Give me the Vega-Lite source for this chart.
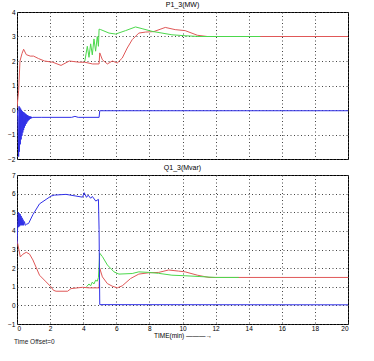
{
  "$schema": "https://vega.github.io/schema/vega-lite/v6.json",
  "background": "white",
  "padding": {"left": 7, "top": 0, "right": 20, "bottom": 2},
  "spacing": 16,
  "bounds": "flush",
  "title": {"text": "Time Offset=0", "orient": "bottom", "anchor": "start", "fontSize": 6.5, "font": "Liberation Sans", "fontWeight": "normal", "color": "#222", "offset": -1, "dx": 7},
  "config": {
    "font": "Liberation Sans",
    "view": {"stroke": "black", "strokeWidth": 1},
    "axis": {"labelFontSize": 6.5, "labelColor": "black", "domain": false, "ticks": false, "labelPadding": 2, "grid": true, "gridColor": "#444", "gridDash": [1, 2.5], "gridWidth": 1, "gridOpacity": 1, "titleFontWeight": "normal", "titleColor": "black"},
    "title": {"fontSize": 6.5, "fontWeight": "normal", "color": "black", "offset": 1},
    "line": {"strokeWidth": 1, "interpolate": "linear"}
  },
  "datasets": {
    "p": [
      {"t": 0, "v": 0.1, "s": "red"}, {"t": 0.1, "v": 0.8, "s": "red"}, {"t": 0.18, "v": 2.0, "s": "red"}, {"t": 0.3, "v": 2.3, "s": "red"}, {"t": 0.4, "v": 2.48, "s": "red"}, {"t": 0.56, "v": 2.26, "s": "red"}, {"t": 0.8, "v": 2.2, "s": "red"}, {"t": 1.0, "v": 2.2, "s": "red"}, {"t": 1.3, "v": 2.1, "s": "red"}, {"t": 1.66, "v": 2.0, "s": "red"}, {"t": 2.16, "v": 1.95, "s": "red"}, {"t": 2.66, "v": 1.82, "s": "red"}, {"t": 3.16, "v": 2.0, "s": "red"}, {"t": 3.76, "v": 1.95, "s": "red"}, {"t": 4.1, "v": 1.95, "s": "red"}, {"t": 4.56, "v": 1.88, "s": "red"}, {"t": 4.96, "v": 1.88, "s": "red"}, {"t": 5.0, "v": 2.33, "s": "red"}, {"t": 5.16, "v": 2.05, "s": "red"}, {"t": 5.46, "v": 1.88, "s": "red"}, {"t": 5.76, "v": 2.0, "s": "red"}, {"t": 6.06, "v": 1.92, "s": "red"}, {"t": 6.36, "v": 2.12, "s": "red"}, {"t": 6.66, "v": 2.53, "s": "red"}, {"t": 6.96, "v": 2.87, "s": "red"}, {"t": 7.36, "v": 3.14, "s": "red"}, {"t": 7.76, "v": 3.18, "s": "red"}, {"t": 8.26, "v": 3.2, "s": "red"}, {"t": 8.96, "v": 3.37, "s": "red"}, {"t": 9.56, "v": 3.28, "s": "red"}, {"t": 10.16, "v": 3.24, "s": "red"}, {"t": 10.9, "v": 3.05, "s": "red"}, {"t": 11.5, "v": 3.0, "s": "red"}, {"t": 20, "v": 3.0, "s": "red"},
      {"t": 4.1, "v": 2.0, "s": "green"}, {"t": 4.25, "v": 2.6, "s": "green"}, {"t": 4.35, "v": 2.15, "s": "green"}, {"t": 4.45, "v": 2.7, "s": "green"}, {"t": 4.55, "v": 2.25, "s": "green"}, {"t": 4.65, "v": 2.9, "s": "green"}, {"t": 4.75, "v": 2.4, "s": "green"}, {"t": 4.85, "v": 3.0, "s": "green"}, {"t": 4.92, "v": 2.6, "s": "green"}, {"t": 4.96, "v": 3.3, "s": "green"}, {"t": 5.06, "v": 3.28, "s": "green"}, {"t": 5.56, "v": 3.14, "s": "green"}, {"t": 5.96, "v": 3.1, "s": "green"}, {"t": 6.56, "v": 3.24, "s": "green"}, {"t": 7.16, "v": 3.39, "s": "green"}, {"t": 7.56, "v": 3.32, "s": "green"}, {"t": 8.16, "v": 3.21, "s": "green"}, {"t": 8.76, "v": 3.14, "s": "green"}, {"t": 9.36, "v": 3.07, "s": "green"}, {"t": 10.16, "v": 3.03, "s": "green"}, {"t": 11, "v": 3.0, "s": "green"}, {"t": 14.7, "v": 3.0, "s": "green"},
      {"t": 0, "v": 0.0, "s": "blue"}, {"t": 0.05, "v": -0.3, "s": "blue"}, {"t": 0.1, "v": -1.9, "s": "blue"}, {"t": 0.125, "v": 0.15, "s": "blue"}, {"t": 0.15, "v": -1.7, "s": "blue"}, {"t": 0.175, "v": 0.1, "s": "blue"}, {"t": 0.2, "v": -1.4, "s": "blue"}, {"t": 0.225, "v": 0.05, "s": "blue"}, {"t": 0.25, "v": -1.2, "s": "blue"}, {"t": 0.275, "v": 0.0, "s": "blue"}, {"t": 0.3, "v": -1.05, "s": "blue"}, {"t": 0.325, "v": -0.05, "s": "blue"}, {"t": 0.35, "v": -0.92, "s": "blue"}, {"t": 0.375, "v": -0.08, "s": "blue"}, {"t": 0.4, "v": -0.82, "s": "blue"}, {"t": 0.425, "v": -0.1, "s": "blue"}, {"t": 0.45, "v": -0.72, "s": "blue"}, {"t": 0.475, "v": -0.13, "s": "blue"}, {"t": 0.5, "v": -0.64, "s": "blue"}, {"t": 0.525, "v": -0.16, "s": "blue"}, {"t": 0.55, "v": -0.57, "s": "blue"}, {"t": 0.575, "v": -0.19, "s": "blue"}, {"t": 0.6, "v": -0.51, "s": "blue"}, {"t": 0.625, "v": -0.21, "s": "blue"}, {"t": 0.65, "v": -0.46, "s": "blue"}, {"t": 0.675, "v": -0.23, "s": "blue"}, {"t": 0.7, "v": -0.42, "s": "blue"}, {"t": 0.725, "v": -0.25, "s": "blue"}, {"t": 0.75, "v": -0.39, "s": "blue"}, {"t": 0.775, "v": -0.26, "s": "blue"}, {"t": 0.8, "v": -0.36, "s": "blue"}, {"t": 0.825, "v": -0.27, "s": "blue"}, {"t": 0.85, "v": -0.34, "s": "blue"}, {"t": 0.875, "v": -0.28, "s": "blue"}, {"t": 0.9, "v": -0.33, "s": "blue"}, {"t": 0.95, "v": -0.3, "s": "blue"}, {"t": 1.5, "v": -0.3, "s": "blue"}, {"t": 3.3, "v": -0.3, "s": "blue"}, {"t": 3.5, "v": -0.26, "s": "blue"}, {"t": 3.7, "v": -0.3, "s": "blue"}, {"t": 4.96, "v": -0.3, "s": "blue"}, {"t": 5.0, "v": -0.03, "s": "blue"}, {"t": 20, "v": -0.03, "s": "blue"}
    ],
    "q": [
      {"t": 0, "v": 3.5, "s": "red"}, {"t": 0.2, "v": 2.6, "s": "red"}, {"t": 0.36, "v": 2.75, "s": "red"}, {"t": 0.56, "v": 2.85, "s": "red"}, {"t": 0.76, "v": 2.75, "s": "red"}, {"t": 0.96, "v": 2.44, "s": "red"}, {"t": 1.36, "v": 1.62, "s": "red"}, {"t": 1.76, "v": 1.26, "s": "red"}, {"t": 2.06, "v": 0.99, "s": "red"}, {"t": 2.2, "v": 0.81, "s": "red"}, {"t": 2.36, "v": 0.76, "s": "red"}, {"t": 3.06, "v": 0.76, "s": "red"}, {"t": 3.26, "v": 0.9, "s": "red"}, {"t": 3.96, "v": 0.97, "s": "red"}, {"t": 4.36, "v": 0.94, "s": "red"}, {"t": 4.96, "v": 0.94, "s": "red"}, {"t": 5.0, "v": 1.99, "s": "red"}, {"t": 5.16, "v": 1.53, "s": "red"}, {"t": 5.46, "v": 1.17, "s": "red"}, {"t": 5.76, "v": 1.03, "s": "red"}, {"t": 6.06, "v": 0.94, "s": "red"}, {"t": 6.36, "v": 1.05, "s": "red"}, {"t": 6.86, "v": 1.44, "s": "red"}, {"t": 7.36, "v": 1.68, "s": "red"}, {"t": 7.96, "v": 1.75, "s": "red"}, {"t": 8.56, "v": 1.77, "s": "red"}, {"t": 9.16, "v": 1.9, "s": "red"}, {"t": 9.76, "v": 1.84, "s": "red"}, {"t": 10.16, "v": 1.8, "s": "red"}, {"t": 10.9, "v": 1.62, "s": "red"}, {"t": 11.6, "v": 1.5, "s": "red"}, {"t": 20, "v": 1.5, "s": "red"},
      {"t": 4.2, "v": 1.0, "s": "green"}, {"t": 4.35, "v": 1.15, "s": "green"}, {"t": 4.45, "v": 1.05, "s": "green"}, {"t": 4.55, "v": 1.25, "s": "green"}, {"t": 4.65, "v": 1.15, "s": "green"}, {"t": 4.75, "v": 1.35, "s": "green"}, {"t": 4.85, "v": 1.3, "s": "green"}, {"t": 4.92, "v": 1.5, "s": "green"}, {"t": 5.0, "v": 2.8, "s": "green"}, {"t": 5.16, "v": 2.62, "s": "green"}, {"t": 5.46, "v": 2.17, "s": "green"}, {"t": 5.86, "v": 1.8, "s": "green"}, {"t": 6.16, "v": 1.68, "s": "green"}, {"t": 6.96, "v": 1.71, "s": "green"}, {"t": 7.36, "v": 1.8, "s": "green"}, {"t": 7.96, "v": 1.77, "s": "green"}, {"t": 8.56, "v": 1.72, "s": "green"}, {"t": 9.36, "v": 1.62, "s": "green"}, {"t": 10.16, "v": 1.59, "s": "green"}, {"t": 11, "v": 1.55, "s": "green"}, {"t": 12, "v": 1.5, "s": "green"}, {"t": 13.4, "v": 1.5, "s": "green"},
      {"t": 0, "v": 3.3, "s": "blue"}, {"t": 0.04, "v": 4.2, "s": "blue"}, {"t": 0.08, "v": 5.0, "s": "blue"}, {"t": 0.1, "v": 4.2, "s": "blue"}, {"t": 0.13, "v": 4.95, "s": "blue"}, {"t": 0.16, "v": 4.25, "s": "blue"}, {"t": 0.19, "v": 4.9, "s": "blue"}, {"t": 0.22, "v": 4.3, "s": "blue"}, {"t": 0.25, "v": 4.8, "s": "blue"}, {"t": 0.28, "v": 4.3, "s": "blue"}, {"t": 0.31, "v": 4.7, "s": "blue"}, {"t": 0.34, "v": 4.3, "s": "blue"}, {"t": 0.37, "v": 4.6, "s": "blue"}, {"t": 0.4, "v": 4.3, "s": "blue"}, {"t": 0.45, "v": 4.5, "s": "blue"}, {"t": 0.5, "v": 4.3, "s": "blue"}, {"t": 0.56, "v": 4.35, "s": "blue"}, {"t": 0.7, "v": 4.4, "s": "blue"}, {"t": 0.96, "v": 4.87, "s": "blue"}, {"t": 1.36, "v": 5.45, "s": "blue"}, {"t": 1.76, "v": 5.69, "s": "blue"}, {"t": 2.06, "v": 5.87, "s": "blue"}, {"t": 2.26, "v": 5.92, "s": "blue"}, {"t": 2.96, "v": 5.96, "s": "blue"}, {"t": 3.56, "v": 5.87, "s": "blue"}, {"t": 3.96, "v": 5.81, "s": "blue"}, {"t": 4.06, "v": 6.05, "s": "blue"}, {"t": 4.2, "v": 5.8, "s": "blue"}, {"t": 4.3, "v": 5.92, "s": "blue"}, {"t": 4.45, "v": 5.75, "s": "blue"}, {"t": 4.55, "v": 5.85, "s": "blue"}, {"t": 4.76, "v": 5.6, "s": "blue"}, {"t": 4.92, "v": 5.69, "s": "blue"}, {"t": 4.96, "v": 4.06, "s": "blue"}, {"t": 5.0, "v": 0.04, "s": "blue"}, {"t": 20, "v": 0.03, "s": "blue"}
    ]
  },
  "vconcat": [
    {
      "width": 331,
      "height": 147,
      "title": {"text": "P1_3(MW)", "fontSize": 7, "offset": 1},
      "data": {"name": "p"},
      "mark": {"type": "line", "clip": true},
      "encoding": {
        "x": {"field": "t", "type": "quantitative", "scale": {"domain": [0, 20], "nice": false}, "axis": {"labels": false, "title": null, "values": [0, 2, 4, 6, 8, 10, 12, 14, 16, 18, 20]}},
        "y": {"field": "v", "type": "quantitative", "scale": {"domain": [-2, 4], "nice": false, "zero": false}, "axis": {"title": null, "values": [-2, -1, 0, 1, 2, 3, 4]}},
        "color": {"field": "s", "type": "nominal", "scale": {"domain": ["red", "green", "blue"], "range": ["#e05858", "#4cd84c", "#3030e8"]}, "legend": null}
      }
    },
    {
      "width": 331,
      "height": 149,
      "title": {"text": "Q1_3(Mvar)", "fontSize": 7, "offset": 1},
      "data": {"name": "q"},
      "mark": {"type": "line", "clip": true},
      "encoding": {
        "x": {"field": "t", "type": "quantitative", "scale": {"domain": [0, 20], "nice": false}, "axis": {"title": "TIME(min) ———→", "titleFontSize": 6.5, "titlePadding": 1, "labelPadding": 1, "values": [0, 2, 4, 6, 8, 10, 12, 14, 16, 18, 20]}},
        "y": {"field": "v", "type": "quantitative", "scale": {"domain": [-1, 7], "nice": false, "zero": false}, "axis": {"title": null, "values": [-1, 0, 1, 2, 3, 4, 5, 6, 7]}},
        "color": {"field": "s", "type": "nominal", "scale": {"domain": ["red", "green", "blue"], "range": ["#e05858", "#4cd84c", "#3030e8"]}, "legend": null}
      }
    }
  ]
}
